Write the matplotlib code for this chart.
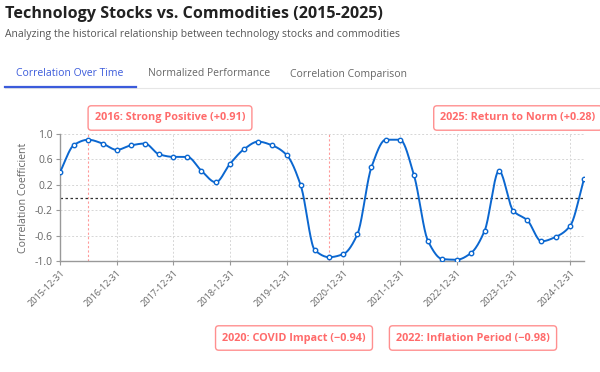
import matplotlib.pyplot as plt
import numpy as np
import pandas as pd

plt.rcParams["font.family"] = ["Open Sans", "DejaVu Sans"]

# quarterly correlation readings, 2015-12-31 .. 2025-03-31
dates = pd.date_range("2015-12-31", "2025-03-31", freq="QE")
corr = [
    0.40, 0.83, 0.91, 0.85, 0.75, 0.82, 0.85, 0.68, 0.64, 0.64,
    0.42, 0.24, 0.53, 0.76, 0.88, 0.82, 0.67, 0.19, -0.83, -0.94,
    -0.89, -0.58, 0.48, 0.91, 0.91, 0.35, -0.69, -0.97, -0.98, -0.88,
    -0.52, 0.42, -0.21, -0.36, -0.69, -0.62, -0.45, 0.29,
]
year_ticks = pd.date_range("2015-12-31", "2024-12-31", freq="YE")
y_ticks = [1.0, 0.6, 0.2, -0.2, -0.6, -1.0]

events = [
    ("2016: Strong Positive (+0.91)", 2),
    ("2020: COVID Impact (\u22120.94)", 19),
    ("2022: Inflation Period (\u22120.98)", 28),
    ("2025: Return to Norm (+0.28)", 37),
]
marked_lines = [2, 19]

tabs = ["Correlation Over Time", "Normalized Performance", "Correlation Comparison"]

BLUE = "#0b67d0"
RED = "#ff6b6b"
GRAY = "#666666"


def monotone_curve(x, y, n=20):
    # Fritsch-Carlson monotone cubic, for drawing only
    x = np.asarray(x, float)
    y = np.asarray(y, float)
    h = np.diff(x)
    d = np.diff(y) / h
    m = np.zeros_like(y)
    m[0], m[-1] = d[0], d[-1]
    for i in range(1, len(y) - 1):
        if d[i - 1] * d[i] <= 0:
            m[i] = 0
        else:
            w1 = 2 * h[i] + h[i - 1]
            w2 = h[i] + 2 * h[i - 1]
            m[i] = (w1 + w2) / (w1 / d[i - 1] + w2 / d[i])
    xs, ys = [], []
    for i in range(len(x) - 1):
        t = np.linspace(0, 1, n, endpoint=False)
        h00 = 2 * t**3 - 3 * t**2 + 1
        h10 = t**3 - 2 * t**2 + t
        h01 = -2 * t**3 + 3 * t**2
        h11 = t**3 - t**2
        xs.append(x[i] + t * h[i])
        ys.append(h00 * y[i] + h10 * h[i] * m[i] + h01 * y[i + 1] + h11 * h[i] * m[i + 1])
    xs.append([x[-1]])
    ys.append([y[-1]])
    return np.concatenate(xs), np.concatenate(ys)


fig = plt.figure(figsize=(6, 3.72), dpi=100)
W, H = 600, 372

# header
fig.text(5 / W, 1 - 14 / H, "Technology Stocks vs. Commodities (2015-2025)",
         fontsize=11.6, fontweight="bold", color="#222222", va="center")
fig.text(5 / W, 1 - 35 / H,
         "Analyzing the historical relationship between technology stocks and commodities",
         fontsize=7.5, color="#555555", va="center")
tab_x = [16, 148, 290]
for i, (label, tx) in enumerate(zip(tabs, tab_x)):
    fig.text(tx / W, 1 - 74 / H, label, fontsize=7.5, va="center",
             color="#3b5bdb" if i == 0 else "#666666")
fig.add_artist(plt.Line2D([5 / W, 1], [1 - 88 / H] * 2, color="#e6e6e6", lw=0.8))
fig.add_artist(plt.Line2D([5 / W, 136 / W], [1 - 87 / H] * 2, color="#3b5bdb", lw=1.6))

ax = fig.add_axes([60 / W, 1 - 261 / H, 524 / W, 127 / H])
xnum = (dates - dates[0]).days.values.astype(float)
cx, cy = monotone_curve(xnum, corr)
ax.plot(dates[0] + pd.to_timedelta(cx, unit="D"), cy, color=BLUE, lw=1.4, zorder=3)
ax.plot(dates, corr, "o", ms=3.2, mfc="white", mec=BLUE, mew=1.0, zorder=4)

ax.axhline(0, color="#333333", lw=0.9, ls=(0, (2, 2)), zorder=2)
for i in marked_lines:
    ax.axvline(dates[i], color="#ff9a9a", lw=0.8, ls=(0, (2, 2)), zorder=1)

ax.set_xlim(dates[0], dates[-1])
ax.set_ylim(-1.0, 1.0)
ax.set_yticks(y_ticks)
ax.set_yticklabels([f"{v:.1f}" for v in y_ticks], fontsize=7.5, color=GRAY)
ax.set_xticks(year_ticks)
ax.set_xticklabels([d.strftime("%Y-%m-%d") for d in year_ticks], rotation=45,
                   ha="right", rotation_mode="anchor", fontsize=6.6, color=GRAY)
ax.set_ylabel("Correlation Coefficient", fontsize=7.6, color=GRAY, labelpad=4)
ax.grid(True, color="#d6d6d6", ls=(0, (2, 2)), lw=0.7)
ax.tick_params(axis="both", length=3, color="#999999", pad=2)
for s in ["top", "right"]:
    ax.spines[s].set_visible(False)
for s in ["left", "bottom"]:
    ax.spines[s].set_color("#999999")
    ax.spines[s].set_linewidth(1.0)
ax.axvline(dates[-1], color="#d6d6d6", lw=0.7, ls=(0, (2, 2)))

# annotation boxes
box_pos = {2: (170, 118), 19: (294, 338), 28: (473, 338), 37: (518, 118)}
for text, idx in events:
    bx, by = box_pos[idx]
    fig.text(bx / W, 1 - by / H, text, fontsize=7.8, fontweight="bold", color=RED,
             ha="center", va="center",
             bbox=dict(boxstyle="round,pad=0.62,rounding_size=0.3", fc="white",
                       ec="#ff8f8f", lw=1.0))

fig.savefig("out.png", dpi=100)
